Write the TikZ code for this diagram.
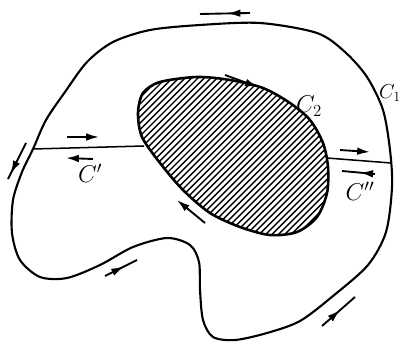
\documentclass[tikz,border=0pt]{standalone}
\usepackage{amsmath,amssymb}
\usetikzlibrary{positioning,arrows.meta,decorations.markings}
\tikzset{
  flow/.style={-{Latex[length=11pt,width=6.5pt]},line width=1.6pt},
  midflow/.style={line width=1.6pt,postaction={decorate},
    decoration={markings,mark=at position #1 with {\arrow{Latex[length=11pt,width=6.5pt]}}}},
  lbl/.style={font=\huge,inner sep=0pt}
}
\begin{document}
\begin{tikzpicture}[x=0.03cm,y=-0.03cm]
\useasboundingbox (0,0) rectangle (403,343);
% outer contour C_1
\draw[line width=1.8pt] plot[smooth cycle] coordinates {(33,149) (46,120) (65,92) (87,62) (113,42) (150,30) (200,25) (260,23) (317,33) (345,52) (367,77) (383,110) (390,150) (392,187) (386,232) (368,265) (333,296) (300,321) (267,333) (235,340) (213,337) (203,320) (200,290) (199,262) (190,245) (167,238) (133,247) (100,265) (67,278) (40,277) (20,260) (12,233) (13,200) (22,172)};
% hatched hole C_2
\begin{scope}
\clip plot[smooth cycle] coordinates {(160,82) (197,77) (230,80) (263,88) (290,103) (310,120) (323,143) (328,167) (327,193) (317,217) (297,232) (270,235) (240,227) (210,213) (183,190) (160,163) (142,137) (138,113) (143,93)};
\foreach \k in {-70,-63.6,...,340}
  \draw[line width=1.2pt] (\k,250) -- ++(200,-200);
\end{scope}
\draw[line width=2.2pt] plot[smooth cycle] coordinates {(160,82) (197,77) (230,80) (263,88) (290,103) (310,120) (323,143) (328,167) (327,193) (317,217) (297,232) (270,235) (240,227) (210,213) (183,190) (160,163) (142,137) (138,113) (143,93)};
% cuts
\coordinate (la) at (33,149);
\coordinate (lb) at (144,146);
\coordinate (ra) at (327,158);
\coordinate (rb) at (391,163);
\draw[line width=1.3pt] (la) -- (lb);
\draw[line width=1.3pt] (ra) -- (rb);
% direction arrows
\draw[midflow=0.45] (250,13) -- (200,14);
\draw[flow] (67,137) -- (99,137);
\draw[flow] (93,159) -- (66,158);
\draw[flow] (340,150) -- (370,152);
\draw[midflow=0.45] (375,174) -- (342,171);
\draw[midflow=0.85] (26,143) -- (8,179);
\draw[midflow=0.6] (105,276) -- (137,260);
\draw[midflow=0.55] (322,326) -- (355,297);
\draw[flow] (225,75) -- (258,87);
\draw[flow] (205,223) -- (177,200);
% labels
\node[lbl,font=\LARGE,anchor=east] (c1) at (401,93) {$C_1$};
\node[lbl] (c2) at (309,106) {$C_2$};
\node[lbl] (cp) at (90,173) {$C'$};
\node[lbl] (cpp) at (360,191) {$C''$};
\end{tikzpicture}
\end{document}
